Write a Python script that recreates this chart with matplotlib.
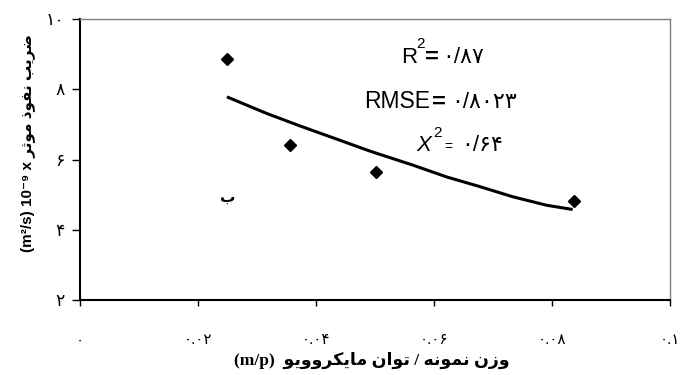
import matplotlib
matplotlib.use("Agg")
import matplotlib.pyplot as plt

# measured points
x_pts = [0.025, 0.0356, 0.0502, 0.0837]
y_pts = [8.86, 6.42, 5.65, 4.83]

# fitted curve
x_fit = [0.0249, 0.0316, 0.0373, 0.0441, 0.0492, 0.0565, 0.0621, 0.0678, 0.0734, 0.0791, 0.0835]
y_fit = [7.79, 7.32, 6.96, 6.55, 6.24, 5.84, 5.51, 5.23, 4.94, 4.70, 4.58]

x_ticks = [0, 0.02, 0.04, 0.06, 0.08, 0.1]
x_tick_labels = ["۰", "۰.۰۲", "۰.۰۴", "۰.۰۶", "۰.۰۸", "۰.۱"]
y_ticks = [2, 4, 6, 8, 10]
y_tick_labels = ["۲", "۴", "۶", "۸", "۱۰"]

r2_value = "۰/۸۷"
rmse_value = "۰/۸۰۲۳"
chi_value = "۰/۶۴"

# matplotlib has no arabic shaping, so pick presentation forms by hand
# (isolated, final, initial, medial)
FORMS = {
    'ا': ('\uFE8D', '\uFE8E', None, None),
    'ب': ('\uFE8F', '\uFE90', '\uFE91', '\uFE92'),
    'ت': ('\uFE95', '\uFE96', '\uFE97', '\uFE98'),
    'ث': ('\uFE99', '\uFE9A', '\uFE9B', '\uFE9C'),
    'ذ': ('\uFEAB', '\uFEAC', None, None),
    'ر': ('\uFEAD', '\uFEAE', None, None),
    'ز': ('\uFEAF', '\uFEB0', None, None),
    'ض': ('\uFEBD', '\uFEBE', '\uFEBF', '\uFEC0'),
    'ف': ('\uFED1', '\uFED2', '\uFED3', '\uFED4'),
    'م': ('\uFEE1', '\uFEE2', '\uFEE3', '\uFEE4'),
    'ن': ('\uFEE5', '\uFEE6', '\uFEE7', '\uFEE8'),
    'ه': ('\uFEE9', '\uFEEA', '\uFEEB', '\uFEEC'),
    'و': ('\uFEED', '\uFEEE', None, None),
    'ی': ('\uFBFC', '\uFBFD', '\uFBFE', '\uFBFF'),
    'ک': ('\uFB8E', '\uFB8F', '\uFB90', '\uFB91'),
}


def shape_rtl(text):
    out = []
    for i, ch in enumerate(text):
        if ch not in FORMS:
            out.append(ch)
            continue
        iso, fin, ini, med = FORMS[ch]
        prev = text[i - 1] if i > 0 else ''
        nxt = text[i + 1] if i + 1 < len(text) else ''
        join_prev = prev in FORMS and FORMS[prev][2] is not None
        join_next = nxt in FORMS and ini is not None
        if join_prev and join_next:
            out.append(med)
        elif join_prev:
            out.append(fin)
        elif join_next:
            out.append(ini)
        else:
            out.append(iso)
    return ''.join(reversed(out))


sans = ['Liberation Sans', 'DejaVu Sans']
serif = ['Liberation Serif', 'DejaVu Sans']

fig = plt.figure(figsize=(6.8, 3.75), dpi=100)
ax = fig.add_axes([0.1176, 0.2, 0.8677, 0.7485])

ax.plot(x_fit, y_fit, color='black', lw=2.2, solid_capstyle='butt')
ax.plot(x_pts, y_pts, 'D', color='black', ms=6.5, ls='none')

ax.set_xlim(0, 0.1)
ax.set_ylim(2, 10)
ax.set_xticks(x_ticks)
ax.set_xticklabels(x_tick_labels, family=sans, fontsize=11)
ax.set_yticks(y_ticks)
ax.set_yticklabels(y_tick_labels, family=sans, fontsize=12.5)
ax.tick_params(axis='y', direction='out', length=6, width=1, pad=5)
ax.tick_params(axis='x', direction='out', length=4, width=1, pad=20)

for side in ['left', 'bottom']:
    ax.spines[side].set_color('black')
    ax.spines[side].set_linewidth(1.5)
for side in ['top', 'right']:
    ax.spines[side].set_color('#808080')
    ax.spines[side].set_linewidth(1)

ylab = "(m²/s) 10⁻⁹ x " + shape_rtl("ضریب نفوذ موثر")
fig.text(0.041, 0.62, ylab, rotation=90, ha='center', va='center',
         family=sans, fontsize=11, fontweight='bold')

xlab = "(m/p)  " + shape_rtl("وزن نمونه / توان مایکروویو")
fig.text(0.547, 0.04, xlab, ha='center', va='center',
         family=serif, fontsize=12.5, fontweight='bold')

# fit statistics, built from pieces to get the big superscripts and bold '='
kw = dict(transform=ax.transAxes, ha='left', va='baseline', family=sans)
ax.text(0.544, 0.843, "R", fontsize=16, **kw)
ax.text(0.5695, 0.897, "2", fontsize=11, **kw)
ax.text(0.584, 0.843, "=", fontsize=17, fontweight='bold', **kw)
ax.text(0.614, 0.843, r2_value, fontsize=16, **kw)

ax.text(0.481, 0.683, "RMSE", fontsize=16.5, **kw)
ax.text(0.596, 0.683, "=", fontsize=17, fontweight='bold', **kw)
ax.text(0.630, 0.683, rmse_value, fontsize=16, **kw)

ax.text(0.571, 0.532, "X", fontsize=16, style='italic', **kw)
ax.text(0.598, 0.582, "2", fontsize=11, **kw)
ax.text(0.617, 0.532, "=", fontsize=10, **kw)
ax.text(0.647, 0.532, chi_value, fontsize=16, **kw)

ax.text(0.251, 0.363, shape_rtl("ب"), transform=ax.transAxes, ha='center', va='center',
        family=sans, fontsize=11, fontweight='bold')

fig.savefig('out.png', dpi=100)
